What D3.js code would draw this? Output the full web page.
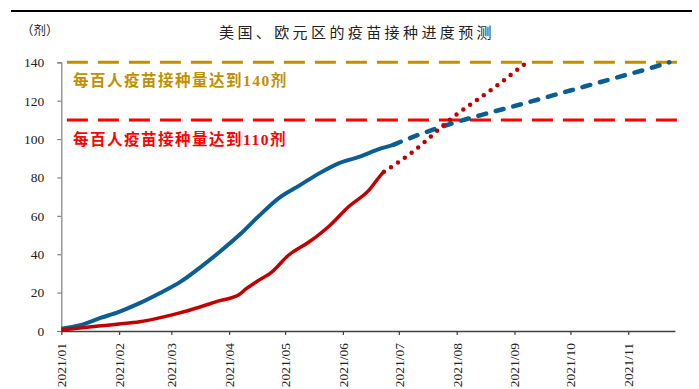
<!DOCTYPE html>
<html>
<head>
<meta charset="utf-8">
<script src="https://cdn.jsdelivr.net/npm/d3@7/dist/d3.min.js"></script>
<style>
  html, body { margin: 0; padding: 0; background: #fff; }
  svg { display: block; }
</style>
</head>
<body>
<svg id="chart" width="699" height="389"></svg>
<script>
// ---------------- DATA ----------------
const title = "美国、欧元区的疫苗接种进度预测";
const unitLabel = "（剂）";
const yTicks = [0, 20, 40, 60, 80, 100, 120, 140];
const xTickLabels = ["2021/01","2021/02","2021/03","2021/04","2021/05","2021/06","2021/07","2021/08","2021/09","2021/10","2021/11"];

// US – actual (solid) and projection (dashed)
const usActualDates = ["2021-01-01","2021-01-11","2021-01-22","2021-02-01","2021-02-12","2021-02-23","2021-03-06","2021-03-16","2021-03-27","2021-04-07","2021-04-17","2021-04-28","2021-05-09","2021-05-19","2021-05-30","2021-06-10","2021-06-21","2021-06-28"];
const usActualValues = [1.2, 3.0, 6.8, 10.0, 14.5, 19.8, 25.7, 32.8, 41.3, 50.5, 60.0, 69.5, 76.0, 82.0, 87.5, 90.8, 95.0, 97.0];
const usProjDates = ["2021-06-28","2021-07-12","2021-07-30","2021-08-17","2021-09-04","2021-09-21","2021-10-09","2021-10-27","2021-11-14","2021-11-23"];
const usProjValues = [97.0, 102.4, 108.3, 113.3, 118.0, 122.6, 127.5, 132.4, 137.3, 140.0];

// Euro area – actual (solid) and projection (dotted)
const euActualDates = ["2021-01-01","2021-01-21","2021-02-01","2021-02-12","2021-02-22","2021-03-05","2021-03-16","2021-03-27","2021-04-06","2021-04-10","2021-04-17","2021-04-23","2021-05-03","2021-05-14","2021-05-25","2021-06-04","2021-06-15","2021-06-22","2021-06-23"];
const euActualValues = [0.5, 2.6, 3.6, 4.8, 6.7, 9.3, 12.4, 15.8, 18.7, 21.9, 26.5, 30.0, 39.6, 46.5, 55.0, 64.7, 73.4, 82.0, 83.0];
const euProjDates = ["2021-06-23","2021-07-08","2021-07-29","2021-08-21","2021-09-08"];
const euProjValues = [83.0, 93.0, 110.6, 126.7, 140.3];

// Reference targets
const targetValues = [140, 110];
const targetLabels = ["每百人疫苗接种量达到140剂", "每百人疫苗接种量达到110剂"];
const targetSpan = ["2021-01-04", "2021-12-01"];
const xDomain = ["2021-01-01", "2021-11-26"];

// ---------------- CHART ----------------
const parse = d3.timeParse("%Y-%m-%d");
const svg = d3.select("#chart");

const colors = {
  us: "#0B5E91",
  eu: "#C00000",
  gold: "#BF9000",
  red: "#FF0000"
};

const x = d3.scaleTime()
  .domain(xDomain.map(parse))
  .range([61.3, 674.9]);
const y = d3.scaleLinear()
  .domain([0, 140])
  .range([331, 62.3]);

// top rule
svg.append("line")
  .attr("x1", 11).attr("x2", 692).attr("y1", 11).attr("y2", 11)
  .attr("stroke", "#000").attr("stroke-width", 2);

// title
svg.append("text")
  .attr("x", 357).attr("y", 38)
  .attr("text-anchor", "middle")
  .attr("font-family", "'Noto Sans CJK SC', sans-serif")
  .attr("font-size", 15)
  .attr("letter-spacing", 3.4)
  .attr("fill", "#222")
  .text(title);

svg.append("text")
  .attr("x", 21).attr("y", 35)
  .attr("font-family", "'Noto Sans CJK SC', sans-serif")
  .attr("font-size", 12.5)
  .attr("fill", "#222")
  .text(unitLabel);

// axes
const yAxis = d3.axisLeft(y).tickValues(yTicks).tickSize(4).tickPadding(13).tickFormat(d3.format("d"));
const gy = svg.append("g").attr("transform", `translate(${x.range()[0]},0)`).call(yAxis);
gy.select(".domain").attr("stroke", "#808080").attr("stroke-width", 1.2);
gy.selectAll(".tick line").attr("stroke", "#808080").attr("stroke-width", 1.2);
gy.selectAll("text")
  .attr("font-family", "'Liberation Serif', 'Times New Roman', serif")
  .attr("font-size", 13.5)
  .attr("fill", "#222");

const xTickDates = xTickLabels.map(s => parse(s.replace("/", "-") + "-01"));
const xAxis = d3.axisBottom(x).tickValues(xTickDates).tickSize(4).tickSizeOuter(0)
  .tickFormat((d, i) => xTickLabels[i]);
const gx = svg.append("g").attr("transform", `translate(0,${y(0)})`).call(xAxis);
gx.select(".domain").attr("stroke", "#404040").attr("stroke-width", 1.4);
gx.selectAll(".tick line").attr("stroke", "#404040").attr("stroke-width", 1.2);
gx.selectAll("text")
  .attr("font-family", "'Liberation Serif', 'Times New Roman', serif")
  .attr("font-size", 13.5)
  .attr("fill", "#222")
  .attr("transform", "rotate(-90)")
  .attr("text-anchor", "end")
  .attr("x", -12)
  .attr("y", 0)
  .attr("dy", "0.33em");

// reference lines
const refColors = [colors.gold, colors.red];
targetValues.forEach((v, i) => {
  svg.append("line")
    .attr("x1", x(parse(targetSpan[0]))).attr("x2", x(parse(targetSpan[1])))
    .attr("y1", y(v)).attr("y2", y(v))
    .attr("stroke", refColors[i]).attr("stroke-width", 3)
    .attr("stroke-dasharray", "21 10");
});

// labels
const labelY = [86, 145];
targetLabels.forEach((t, i) => {
  svg.append("text")
    .attr("x", 73).attr("y", labelY[i])
    .attr("font-family", "'Liberation Serif', 'Noto Sans CJK SC', serif")
    .attr("font-weight", "bold")
    .attr("font-size", 15.5)
    .attr("letter-spacing", 1.5)
    .attr("fill", refColors[i])
    .text(t);
});

// lines
const toPts = (ds, vs) => ds.map((d, i) => ({ d: parse(d), v: vs[i] }));
const line = d3.line().x(p => x(p.d)).y(p => y(p.v)).curve(d3.curveMonotoneX);

svg.append("path").datum(toPts(usProjDates, usProjValues))
  .attr("d", line).attr("fill", "none")
  .attr("stroke", colors.us).attr("stroke-width", 4.5)
  .attr("stroke-linecap", "round")
  .attr("stroke-dasharray", "8 10");

svg.append("path").datum(toPts(euProjDates, euProjValues))
  .attr("d", line).attr("fill", "none")
  .attr("stroke", colors.eu).attr("stroke-width", 4.5)
  .attr("stroke-linecap", "round")
  .attr("stroke-dasharray", "0 8.4");

svg.append("path").datum(toPts(usActualDates, usActualValues))
  .attr("d", line).attr("fill", "none")
  .attr("stroke", colors.us).attr("stroke-width", 4)
  .attr("stroke-linejoin", "round");

svg.append("path").datum(toPts(euActualDates, euActualValues))
  .attr("d", line).attr("fill", "none")
  .attr("stroke", colors.eu).attr("stroke-width", 3.5)
  .attr("stroke-linejoin", "round");
</script>
</body>
</html>
